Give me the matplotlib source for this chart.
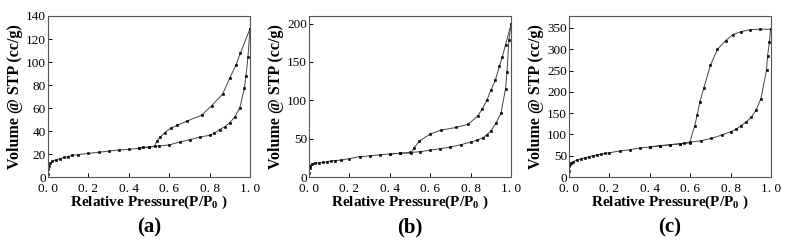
import numpy as np
import matplotlib
matplotlib.use('Agg')
import matplotlib.pyplot as plt

plt.rcParams['font.family'] = ['Liberation Serif', 'DejaVu Serif']
plt.rcParams['mathtext.fontset'] = 'custom'
plt.rcParams['mathtext.rm'] = 'Liberation Serif:bold'
plt.rcParams['mathtext.it'] = 'Liberation Serif:bold'
plt.rcParams['mathtext.bf'] = 'Liberation Serif:bold'

# panel (a)
a_ads_x = [0.0, 0.002, 0.005, 0.01, 0.02, 0.04, 0.06, 0.08, 0.1, 0.12, 0.15, 0.2, 0.25, 0.3, 0.35,
           0.4, 0.45, 0.5, 0.548, 0.6, 0.653, 0.703, 0.75, 0.8, 0.822, 0.85, 0.874, 0.9, 0.925,
           0.95, 0.972, 0.98, 0.99, 1.0]
a_ads_y = [3, 7, 10, 12, 13.5, 15, 16, 17, 17.8, 18.8, 19.5, 20.5, 21.5, 22.5, 23.5,
           24, 25, 25.9, 27, 27.9, 30.5, 32.5, 34.6, 36.3, 38, 41.2, 43.6, 47.3, 52.3,
           60.4, 77, 87.7, 104.6, 129]
a_des_x = [1.0, 0.952, 0.93, 0.899, 0.864, 0.81, 0.76, 0.69, 0.64, 0.61, 0.578, 0.556, 0.54,
           0.528, 0.5, 0.47, 0.45]
a_des_y = [129, 107.5, 97.3, 85.7, 72, 62, 53.7, 48.8, 45, 42.7, 38.6, 34.9, 31.4,
           27, 26.1, 25.8, 25.3]

# panel (b)
b_ads_x = [0.0, 0.003, 0.007, 0.015, 0.03, 0.05, 0.07, 0.09, 0.11, 0.13, 0.16, 0.2, 0.25, 0.3,
           0.35, 0.4, 0.45, 0.5, 0.55, 0.6, 0.65, 0.7, 0.75, 0.8, 0.83, 0.86, 0.88, 0.9, 0.925,
           0.95, 0.973, 0.98, 0.99, 1.0]
b_ads_y = [5, 12, 15, 17, 18, 18.5, 19, 20, 21, 21.5, 22, 24, 26.5, 27.5,
           29, 30, 31, 32, 33, 35, 37, 39, 42, 45.5, 48, 51, 55, 60, 70,
           83, 115, 137, 179, 199]
b_des_x = [1.0, 0.973, 0.957, 0.943, 0.922, 0.9, 0.882, 0.858, 0.835, 0.788, 0.73, 0.652, 0.6,
           0.547, 0.52, 0.505, 0.45, 0.4]
b_des_y = [199, 172.6, 156.5, 144.8, 126, 113, 101, 88.7, 79.6, 68.7, 64.8, 61, 56,
           47, 38, 31.3, 31, 30]

# panel (c)
c_ads_x = [0.0, 0.002, 0.005, 0.01, 0.02, 0.04, 0.06, 0.08, 0.1, 0.12, 0.14, 0.16, 0.18, 0.2,
           0.25, 0.3, 0.35, 0.4, 0.45, 0.5, 0.55, 0.6, 0.652, 0.705, 0.755, 0.8, 0.826, 0.85,
           0.877, 0.902, 0.927, 0.95, 0.978, 0.983, 0.992, 0.998]
c_ads_y = [15, 25, 30, 33, 36, 40, 43, 45, 48, 50, 52, 54, 55.5, 57,
           61, 64, 68, 70.5, 73, 75.5, 78, 82, 85, 90.6, 98.5, 106, 112, 120,
           129, 140, 158, 184, 252, 284, 317, 347]
c_des_x = [0.998, 0.945, 0.897, 0.85, 0.81, 0.775, 0.735, 0.7, 0.668, 0.648, 0.635, 0.622,
           0.597, 0.57, 0.55, 0.5, 0.45, 0.4]
c_des_y = [347, 347, 346, 341, 334, 320, 300, 262, 210, 177, 146, 120,
           80, 79, 78, 76, 73.5, 71]

xticks = [0.0, 0.2, 0.4, 0.6, 0.8, 1.0]
xtick_labels = ['0. 0', '0. 2', '0. 4', '0. 6', '0. 8', '1. 0']
panels = [
    ('(a)', a_ads_x, a_ads_y, a_des_x, a_des_y, 140, [0, 20, 40, 60, 80, 100, 120, 140]),
    ('(b)', b_ads_x, b_ads_y, b_des_x, b_des_y, 210, [0, 50, 100, 150, 200]),
    ('(c)', c_ads_x, c_ads_y, c_des_x, c_des_y, 378, [0, 50, 100, 150, 200, 250, 300, 350]),
]

fig = plt.figure(figsize=(7.87, 2.43), dpi=100)
lefts = [48, 309, 569]
W, H = 787, 243
for left, (tag, ax_x, ax_y, dx, dy, ytop, yticks) in zip(lefts, panels):
    ax = fig.add_axes([left / W, (H - 177) / H, 202 / W, 161 / H])
    for xs, ys in [(ax_x, ax_y), (dx, dy)]:
        ax.plot(xs, ys, color='#444444', lw=0.7, marker='s', ms=1.5,
                mfc='black', mec='black', mew=0.4)
    ax.set_xlim(0, 1.0)
    ax.set_ylim(0, ytop)
    ax.set_xticks(xticks, labels=xtick_labels)
    ax.set_yticks(yticks)
    ax.tick_params(direction='in', length=3, width=0.7, labelsize=9.5)
    ax.tick_params(axis='x', pad=4.5)
    ax.tick_params(axis='y', pad=1.5)
    for s in ax.spines.values():
        s.set_linewidth(0.8)
        s.set_color('#555555')
    ax.set_xlabel('Relative Pressure(P/P$_0$ )', fontsize=11, fontweight='bold', labelpad=-1)
    ax.set_ylabel('Volume @ STP (cc/g)', fontsize=11.5, fontweight='bold', labelpad=2)
    fig.text((left + 101) / W, (H - 227) / H, tag, fontsize=15,
             fontweight='bold', ha='center', va='center')

fig.savefig('out.png', dpi=100)
